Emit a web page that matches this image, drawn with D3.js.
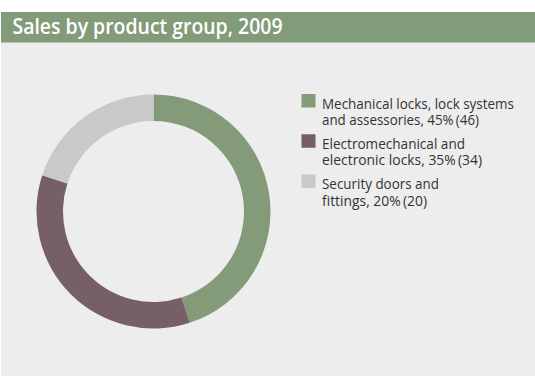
<!DOCTYPE html>
<html>
<head>
<meta charset="utf-8">
<script src="https://cdn.jsdelivr.net/npm/d3@7"></script>
<style>
body { margin:0; background:#fff; }
svg { display:block; }
text { font-family:"Open Sans", "Noto Sans", sans-serif; }
</style>
</head>
<body>
<div id="chart"></div>
<script>
var title = 'Sales by product group, 2009'
var categoryLines = [
	['Mechanical locks, lock systems', 'and assessories'],
	['Electromechanical and', 'electronic locks'],
	['Security doors and', 'fittings']
]
var shares = [45, 35, 20]
var sales  = [46, 34, 20]
var colors = ['#839b79', '#765f68', '#c9c9c9']
// measured widths of each legend line in the reference
var lineWidths = [[192, 157], [143, 160], [117, 105]]

var wd = 535, ht = 376
var svg = d3.select('#chart').append('svg').attr('width', wd).attr('height', ht)

svg.append('rect').attr('x', 1).attr('y', 12).attr('width', wd - 1).attr('height', ht - 12).style('fill', '#ededed')
svg.append('rect').attr('x', 1).attr('y', 12).attr('width', wd - 1).attr('height', 30.5).style('fill', '#829b79')
svg.append('text').attr('x', 12.5).attr('y', 34).text(title)
	.attr('textLength', 270).attr('lengthAdjust', 'spacingAndGlyphs')
	.style('font-size', '21px').style('font-weight', 600).style('fill', '#fff')

// donut
var pie = d3.pie().sort(null).value(function(d){ return d })
var arc = d3.arc().innerRadius(90.5).outerRadius(117)
var donut = svg.append('g').attr('transform', 'translate(153.5,211.5)')
donut.selectAll('path').data(pie(shares)).enter().append('path')
	.attr('d', arc).style('fill', function(d, i){ return colors[i] })

// legend
var legend = svg.append('g').attr('id', 'legend')
var itemY = d3.scalePoint().domain(d3.range(shares.length)).range([108.5, 189]).padding(0)
categoryLines.forEach(function(e, i){
	var y = itemY(i)
	var g = legend.append('g')
	g.append('rect').attr('x', 301.5).attr('y', y - 14.5).attr('width', 14).attr('height', 13.5)
		.style('fill', colors[i])
	var lines = [e[0], e[1] + ', ' + shares[i] + '%\u2009(' + sales[i] + ')']
	lines.forEach(function(t, j){
		g.append('text').attr('x', 322).attr('y', y + j * 16.5).text(t)
			.attr('textLength', lineWidths[i][j]).attr('lengthAdjust', 'spacingAndGlyphs')
			.style('font-size', '14.5px').style('fill', '#333')
	})
})
</script>
</body>
</html>
